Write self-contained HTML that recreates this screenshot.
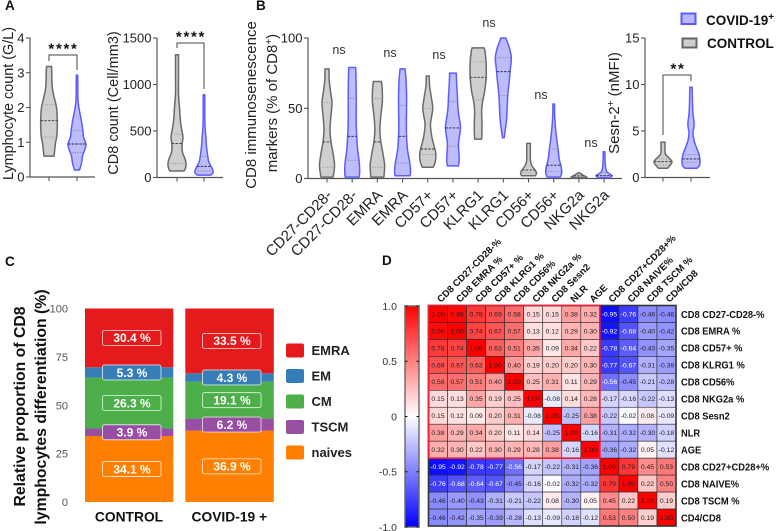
<!DOCTYPE html>
<html lang="en">
<head>
<meta charset="utf-8">
<title>CD8 immunosenescence figure</title>
<style>
html,body{margin:0;padding:0;background:#fff}
svg{display:block;font-family:"Liberation Sans",sans-serif;filter:blur(0.35px)}
.tick{font-size:13px;fill:#222}
.ylab{font-size:15px;fill:#222;text-anchor:middle}
.letter{font-size:13.5px;font-weight:bold;fill:#111}
.ns{font-size:12.5px;fill:#333;text-anchor:middle}
.stars{font-size:15px;font-weight:bold;fill:#111;text-anchor:middle;letter-spacing:1.7px}
.bold{font-weight:bold;fill:#111}
</style>
</head>
<body>
<svg id="fig" xmlns="http://www.w3.org/2000/svg" width="777" height="531" viewBox="0 0 777 531">
  <rect width="777" height="531" fill="#fff"/>

  <text class="letter" x="5" y="10">A</text>
  <text class="letter" x="256" y="10">B</text>
  <text class="letter" x="5" y="266">C</text>
  <text class="letter" x="382" y="265">D</text>

  <text class="ylab" transform="translate(13,103.5) rotate(-90)" style="font-size:14.4px">Lymphocyte count (G/L)</text>
  <text class="ylab" transform="translate(118,103) rotate(-90)" style="font-size:14.5px">CD8 count (Cell/mm3)</text>
  <text class="ylab" transform="translate(256,105) rotate(-90)">CD8 immunosenescence</text>
  <text class="ylab" transform="translate(277,103) rotate(-90)">markers (% of CD8<tspan baseline-shift="super" font-size="10">+</tspan>)</text>
  <text class="ylab" transform="translate(619,103) rotate(-90)">Sesn-2<tspan baseline-shift="super" font-size="10">+</tspan> (nMFI)</text>

  <g>
    <rect x="681.5" y="13.5" width="14" height="10.5" fill="#b9b9ff" stroke="#5a5aff" stroke-width="2"/>
    <text class="bold" x="706" y="25" font-size="13.5">COVID-19<tspan baseline-shift="super" font-size="10">+</tspan></text>
    <rect x="682.5" y="38.5" width="14" height="9" fill="#cfcfcf" stroke="#666" stroke-width="2"/>
    <text class="bold" x="707" y="48" font-size="13.5">CONTROL</text>
  </g>

  <text class="bold" text-anchor="middle" font-size="15.8" transform="translate(25,406.5) rotate(-90)">Relative proportion of CD8</text>
  <text class="bold" text-anchor="middle" font-size="15.8" transform="translate(46,407) rotate(-90)">lymphocytes differentiation (%)</text>

  <g id="layer"></g>
</svg>

<script>
// ---------- Panel A / B / Sesn violin data (value levels, density at each level, quartiles) ----------
const lymphTicks = [0, 1, 2, 3, 4];
const cd8Ticks = [0, 500, 1000, 1500];
const markerTicks = [0, 50, 100];
const sesnTicks = [0, 5, 10, 15];

const lymphControlValues = [0.6, 0.8, 1.0, 1.2, 1.6, 2.0, 2.3, 2.6, 3.0, 3.18];
const lymphControlDensity = [5, 5.8, 6.6, 7.9, 8.3, 7.5, 5.1, 3.2, 2.8, 2.5];
const lymphControlQuartiles = [1.15, 1.62, 2.08];
const lymphCovidValues = [0.2, 0.4, 0.6, 0.8, 0.95, 1.15, 1.3, 1.6, 1.9, 2.2, 2.6, 2.93];
const lymphCovidDensity = [2.5, 4.5, 5.5, 8, 9, 6.5, 6, 4.5, 2.5, 1, 0.8, 0.7];
const lymphCovidQuartiles = [0.7, 0.95, 1.33];

const cd8ControlValues = [70, 100, 150, 200, 270, 350, 430, 500, 600, 750, 900, 1050, 1200, 1320];
const cd8ControlDensity = [7, 8.5, 9, 8, 5.5, 5, 6, 5, 3.5, 2.5, 1.5, 1.5, 1.5, 1.5];
const cd8ControlQuartiles = [150, 365, 465];
const cd8CovidValues = [25, 50, 90, 130, 180, 250, 330, 420, 550, 700, 890];
const cd8CovidDensity = [6.5, 9, 8.5, 6.5, 4.5, 3.5, 2.5, 2, 1, 0.8, 0.8];
const cd8CovidQuartiles = [70, 120, 225];

const markerCategories = ['CD27-CD28-', 'CD27-CD28-', 'EMRA', 'EMRA', 'CD57+', 'CD57+', 'KLRG1', 'KLRG1', 'CD56+', 'CD56+', 'NKG2a', 'NKG2a'];
const markerSignificance = ['ns', 'ns', 'ns', 'ns', 'ns', 'ns'];

const cd27ControlValues = [1, 5, 10, 18, 26, 35, 45, 54, 62, 70, 78];
const cd27ControlDensity = [6, 7, 7.5, 6, 4, 3, 4, 5, 3.5, 2.2, 2];
const cd27ControlQuartiles = [8, 26, 54];
const cd27CovidValues = [1, 5, 12, 20, 30, 40, 50, 60, 70, 79];
const cd27CovidDensity = [7, 7.5, 7, 5.5, 4.5, 4, 4, 4, 3.8, 3.5];
const cd27CovidQuartiles = [13, 30, 57];
const emraControlValues = [1, 5, 10, 18, 26, 35, 45, 55, 64, 69];
const emraControlDensity = [6.5, 7, 7.2, 5.5, 3.5, 2.5, 3.5, 5, 4.8, 4];
const emraControlQuartiles = [8, 26, 57];
const emraCovidValues = [2, 6, 12, 20, 30, 40, 50, 60, 70, 78];
const emraCovidDensity = [7.5, 8, 7, 5, 4, 3.8, 4, 4, 3.5, 2.5];
const emraCovidQuartiles = [11, 30, 52];
const cd57ControlValues = [8, 12, 18, 24, 30, 38, 44, 50, 58, 66, 73];
const cd57ControlDensity = [5.5, 7.5, 8, 6, 4, 2.7, 3.8, 5, 3.5, 1.8, 1.5];
const cd57ControlQuartiles = [17, 21, 50];
const cd57CovidValues = [9, 13, 18, 24, 30, 36, 42, 50, 58, 66, 75];
const cd57CovidDensity = [5.5, 6.2, 6, 5.5, 6.5, 7.5, 6.5, 5, 4.5, 3.8, 3.3];
const cd57CovidQuartiles = [23, 36, 55];
const klrgControlValues = [28, 33, 40, 48, 55, 62, 72, 82, 90, 93];
const klrgControlDensity = [3.5, 3.8, 3.8, 3.5, 4.5, 6.5, 8, 8, 7, 6];
const klrgControlQuartiles = [56, 72, 83];
const klrgCovidValues = [29, 35, 42, 50, 60, 70, 78, 86, 93, 100];
const klrgCovidDensity = [0.8, 2, 3.2, 3.8, 4.5, 6, 7, 8, 6, 2.5];
const klrgCovidQuartiles = [59, 76, 86];
const cd56ControlValues = [2, 4, 6, 9, 12, 16, 20, 25];
const cd56ControlDensity = [7, 8, 6.5, 3.5, 2, 1.8, 1.8, 1.8];
const cd56ControlQuartiles = [4, 6, 15];
const cd56CovidValues = [1, 4, 8, 14, 20, 28, 36, 44, 53];
const cd56CovidDensity = [6.5, 8, 7.5, 5.5, 4.5, 3, 1.8, 1, 0.8];
const cd56CovidQuartiles = [5, 9.5, 21];
const nkgControlValues = [0.5, 1, 2, 3, 4];
const nkgControlDensity = [6, 8, 5, 3, 1];
const nkgControlQuartiles = [1, 1.8, 2.6];
const nkgCovidValues = [0.5, 2, 3.5, 5, 8, 12, 19];
const nkgCovidDensity = [6, 8, 5, 2.5, 1.5, 1, 0.8];
const nkgCovidQuartiles = [1, 2, 4];

const sesnControlValues = [1, 1.3, 1.7, 2.1, 2.5, 3, 3.8];
const sesnControlDensity = [4.5, 7, 9, 6, 2.5, 2, 2];
const sesnControlQuartiles = [1.35, 1.7, 2];
const sesnCovidValues = [1, 1.3, 1.8, 2.5, 3.2, 4, 4.8, 5.5, 6, 6.8, 8, 9.7];
const sesnCovidDensity = [6, 8.5, 9, 8, 5.5, 3, 2, 3, 3, 2, 1.5, 1.2];
const sesnCovidQuartiles = [1.65, 2, 2.45];

// ---------- Panel C data ----------
const stackGroups = ['CONTROL', 'COVID-19 +'];
const stackSegments = ['naives', 'TSCM', 'CM', 'EM', 'EMRA'];
const controlShares = [34.1, 3.9, 26.3, 5.3, 30.4];
const covidShares = [36.9, 6.2, 19.1, 4.3, 33.5];
const stackTicks = [0, 25, 50, 75, 100];
const legendOrder = ['EMRA', 'EM', 'CM', 'TSCM', 'naives'];

// ---------- Panel D data ----------
const heatLabels = ['CD8 CD27-CD28-%', 'CD8 EMRA %', 'CD8 CD57+ %', 'CD8 KLRG1 %', 'CD8 CD56%', 'CD8 NKG2a %', 'CD8 Sesn2', 'NLR', 'AGE', 'CD8 CD27+CD28+%', 'CD8 NAIVE%', 'CD8 TSCM %', 'CD4/CD8'];
const heatRow01 = [1, .96, .78, .69, .58, .15, .15, .38, .32, -.95, -.76, -.46, -.46];
const heatRow02 = [.96, 1, .74, .67, .57, .13, .12, .29, .30, -.92, -.68, -.40, -.42];
const heatRow03 = [.78, .74, 1, .63, .51, .35, .09, .34, .22, -.78, -.64, -.43, -.35];
const heatRow04 = [.69, .67, .63, 1, .40, .19, .20, .20, .30, -.77, -.67, -.31, -.39];
const heatRow05 = [.58, .57, .51, .40, 1, .25, .31, .11, .29, -.56, -.45, -.21, -.28];
const heatRow06 = [.15, .13, .35, .19, .25, 1, -.08, .14, .28, -.17, -.16, -.22, -.13];
const heatRow07 = [.15, .12, .09, .20, .31, -.08, 1, -.25, .38, -.22, -.02, .08, -.09];
const heatRow08 = [.38, .29, .34, .20, .11, .14, -.25, 1, -.16, -.31, -.32, -.30, -.18];
const heatRow09 = [.32, .30, .22, .30, .29, .28, .38, -.16, 1, -.36, -.32, .05, -.12];
const heatRow10 = [-.95, -.92, -.78, -.77, -.56, -.17, -.22, -.31, -.36, 1, .79, .45, .53];
const heatRow11 = [-.76, -.68, -.64, -.67, -.45, -.16, -.02, -.32, -.32, .79, 1, .22, .50];
const heatRow12 = [-.46, -.40, -.43, -.31, -.21, -.22, .08, -.30, .05, .45, .22, 1, .19];
const heatRow13 = [-.46, -.42, -.35, -.39, -.28, -.13, -.09, -.18, -.12, .53, .50, .19, 1];
const heatTicks = [1, 0.5, 0, -0.5, -1];

// ---------- Helpers ----------
const NS = 'http://www.w3.org/2000/svg';
const layer = document.getElementById('layer');
function mk(tag, attrs, name, parent, text) {
  const el = document.createElementNS(NS, tag);
  for (const k in attrs) el.setAttribute(k, attrs[k]);
  
  
  if (text !== undefined) el.textContent = text;
  (parent || layer).appendChild(el);
  return el;
}
function linear(d0, d1, r0, r1) { return v => r0 + (v - d0) / (d1 - d0) * (r1 - r0); }
function smoothSide(pts) {
  let d = '';
  for (let i = 0; i < pts.length - 1; i++) {
    const p0 = pts[Math.max(0, i - 1)], p1 = pts[i], p2 = pts[i + 1], p3 = pts[Math.min(pts.length - 1, i + 2)];
    const c1x = p1[0] + (p2[0] - p0[0]) / 6, c1y = p1[1] + (p2[1] - p0[1]) / 6;
    const c2x = p2[0] - (p3[0] - p1[0]) / 6, c2y = p2[1] - (p3[1] - p1[1]) / 6;
    d += 'C' + c1x.toFixed(2) + ' ' + c1y.toFixed(2) + ' ' + c2x.toFixed(2) + ' ' + c2y.toFixed(2) + ' ' + p2[0].toFixed(2) + ' ' + p2[1].toFixed(2);
  }
  return d;
}
const palette = {
  control: { fill: '#cfcfcf', stroke: '#6a6a6a', median: '#333', dots: '#8a8a8a' },
  covid: { fill: '#bcbcff', stroke: '#5c5cff', median: '#222', dots: '#777' }
};
function densityAt(values, density, v) {
  for (let i = 0; i < values.length - 1; i++) {
    if (v >= values[i] && v <= values[i + 1]) {
      const t = (v - values[i]) / (values[i + 1] - values[i]);
      return density[i] + t * (density[i + 1] - density[i]);
    }
  }
  return 0;
}
function violin(cx, yScale, values, density, quartiles, kind, name) {
  const c = palette[kind];
  const g = mk('g', {}, name);
  const right = values.map((v, i) => [cx + density[i], yScale(v)]);
  const left = values.map((v, i) => [cx - density[i], yScale(v)]).reverse();
  const d = 'M' + right[0][0].toFixed(2) + ' ' + right[0][1].toFixed(2) + smoothSide(right) +
    'L' + left[0][0].toFixed(2) + ' ' + left[0][1].toFixed(2) + smoothSide(left) + 'Z';
  mk('path', { d: d, fill: c.fill, stroke: c.stroke, 'stroke-width': 1.5, 'stroke-linejoin': 'round' }, name + '-body', g);
  quartiles.forEach((q, i) => {
    const w = densityAt(values, density, q);
    const attrs = { x1: cx - w, x2: cx + w, y1: yScale(q), y2: yScale(q),
      stroke: i === 1 ? c.median : c.dots, 'stroke-width': i === 1 ? 0.9 : 0.8,
      'stroke-dasharray': i === 1 ? '2.5 1.2' : '1 1.4' };
    mk('line', attrs, name + (i === 1 ? '-median' : '-quartile'), g);
  });
}
function yAxis(x, yScale, ticks, right, name) {
  const g = mk('g', {}, name);
  mk('line', { x1: x, x2: x, y1: yScale(ticks[ticks.length - 1]) - 0.5, y2: yScale(0) + 0.5, stroke: '#555', 'stroke-width': 1.2 }, name + '-line', g);
  mk('line', { x1: x, x2: right, y1: yScale(0), y2: yScale(0), stroke: '#555', 'stroke-width': 1.2 }, name + '-baseline', g);
  ticks.forEach(t => {
    mk('line', { x1: x - 4, x2: x, y1: yScale(t), y2: yScale(t), stroke: '#555', 'stroke-width': 1.1 }, 'y-tick-mark', g);
    mk('text', { x: x - 5.5, y: yScale(t) + 4.6, 'text-anchor': 'end', class: 'tick' }, 'y-tick-label', g, String(t));
  });
}
function xTick(x, y0, name) {
  mk('line', { x1: x, x2: x, y1: y0, y2: y0 + 4, stroke: '#555', 'stroke-width': 1.1 }, name, layer);
}
function bracket(x1, x2, top, y1, y2, stars, sx, sy, name) {
  const g = mk('g', {}, name);
  mk('path', { d: 'M' + x1 + ' ' + y1 + 'V' + top + 'H' + x2 + 'V' + y2, fill: 'none', stroke: '#444', 'stroke-width': 1 }, name + '-line', g);
  mk('text', { x: sx, y: sy, class: 'stars' }, name + '-stars', g, stars);
}

// ---------- Panel A ----------
const yLymph = linear(0, 4, 177, 38);
yAxis(30, yLymph, lymphTicks, 95, 'lymphocyte-axis');
xTick(49, 177, 'lymphocyte-x-tick-control');
xTick(77, 177, 'lymphocyte-x-tick-covid');
violin(49, yLymph, lymphControlValues, lymphControlDensity, lymphControlQuartiles, 'control', 'lymphocyte-violin-control');
violin(77, yLymph, lymphCovidValues, lymphCovidDensity, lymphCovidQuartiles, 'covid', 'lymphocyte-violin-covid');
bracket(49, 77, 55, 61, 70, '****', 63.5, 53.5, 'lymphocyte-significance');

const yCd8 = linear(0, 1500, 177.5, 38);
yAxis(157, yCd8, cd8Ticks, 223, 'cd8-axis');
xTick(177, 177.5, 'cd8-x-tick-control');
xTick(204, 177.5, 'cd8-x-tick-covid');
violin(177, yCd8, cd8ControlValues, cd8ControlDensity, cd8ControlQuartiles, 'control', 'cd8-violin-control');
violin(204, yCd8, cd8CovidValues, cd8CovidDensity, cd8CovidQuartiles, 'covid', 'cd8-violin-covid');
bracket(177, 204, 43, 48, 89, '****', 191, 41.5, 'cd8-significance');

// ---------- Panel B ----------
const yMarker = linear(0, 100, 178.5, 38);
const xMarker = i => 327 + i * 25.19;
yAxis(308, yMarker, markerTicks, 622, 'marker-axis');
const markerViolins = [
  [cd27ControlValues, cd27ControlDensity, cd27ControlQuartiles],
  [cd27CovidValues, cd27CovidDensity, cd27CovidQuartiles],
  [emraControlValues, emraControlDensity, emraControlQuartiles],
  [emraCovidValues, emraCovidDensity, emraCovidQuartiles],
  [cd57ControlValues, cd57ControlDensity, cd57ControlQuartiles],
  [cd57CovidValues, cd57CovidDensity, cd57CovidQuartiles],
  [klrgControlValues, klrgControlDensity, klrgControlQuartiles],
  [klrgCovidValues, klrgCovidDensity, klrgCovidQuartiles],
  [cd56ControlValues, cd56ControlDensity, cd56ControlQuartiles],
  [cd56CovidValues, cd56CovidDensity, cd56CovidQuartiles],
  [nkgControlValues, nkgControlDensity, nkgControlQuartiles],
  [nkgCovidValues, nkgCovidDensity, nkgCovidQuartiles]
];
markerViolins.forEach((v, i) => {
  const x = xMarker(i);
  xTick(x, 178.5, 'marker-x-tick');
  violin(x, yMarker, v[0], v[1], v[2], i % 2 ? 'covid' : 'control', 'marker-violin-' + markerCategories[i].toLowerCase().replace(/[^a-z0-9]+/g, '') + (i % 2 ? '-covid' : '-control'));
  mk('text', { 'text-anchor': 'end', 'font-size': 15, fill: '#222', transform: 'translate(' + (x + 6) + ',196) rotate(-45)' }, 'marker-category-label', layer, markerCategories[i]);
});
const nsX = [339, 390, 439, 489, 541, 591];
const nsY = [54, 57, 59, 27, 99, 147];
markerSignificance.forEach((s, i) => {
  mk('text', { x: nsX[i], y: nsY[i], class: 'ns' }, 'marker-significance-label', layer, s);
});

// ---------- Sesn panel ----------
const ySesn = linear(0, 15, 177.5, 38);
yAxis(645, ySesn, sesnTicks, 710, 'sesn-axis');
xTick(663, 177.5, 'sesn-x-tick-control');
xTick(691, 177.5, 'sesn-x-tick-covid');
violin(663, ySesn, sesnControlValues, sesnControlDensity, sesnControlQuartiles, 'control', 'sesn-violin-control');
violin(691, ySesn, sesnCovidValues, sesnCovidDensity, sesnCovidQuartiles, 'covid', 'sesn-violin-covid');
bracket(663, 691, 75, 135, 81, '**', 678, 73.5, 'sesn-significance');

// ---------- Panel C ----------
const segmentColors = { EMRA: '#e41a1c', EM: '#377eb8', CM: '#4daf4a', TSCM: '#984ea3', naives: '#ff7f00' };
const yStack = linear(0, 100, 502, 308.5);
stackTicks.forEach(t => {
  mk('text', { x: 68, y: yStack(t) + 4, 'text-anchor': 'end', 'font-size': 11, fill: '#555' }, 'stack-y-tick-label', layer, String(t));
});
const stackX = [85, 185.3];
const stackW = [88.3, 88.5];
const boxX = [102, 202];
[controlShares, covidShares].forEach((shares, g) => {
  let cum = 0;
  const group = mk('g', {}, 'stack-' + stackGroups[g].toLowerCase().replace(/[^a-z0-9]+/g, '-'));
  shares.forEach((v, i) => {
    const seg = stackSegments[i];
    mk('rect', { x: stackX[g], y: yStack(cum + v), width: stackW[g], height: yStack(cum) - yStack(cum + v), fill: segmentColors[seg] }, 'segment-' + seg.toLowerCase(), group);
    cum += v;
  });
  cum = 0;
  shares.forEach((v, i) => {
    const seg = stackSegments[i];
    const cy = yStack(cum + v / 2);
    mk('rect', { x: boxX[g] + 0.5, y: cy - 7.5, width: 58.5, height: 15, rx: 2, fill: segmentColors[seg], stroke: 'rgba(255,255,255,.75)', 'stroke-width': 0.9 }, 'segment-label-box', group);
    mk('text', { x: boxX[g] + 30, y: cy + 4.3, 'text-anchor': 'middle', 'font-size': 12, 'font-weight': 'bold', fill: '#fff' }, 'segment-label', group, v.toFixed(1) + ' %');
    cum += v;
  });
  mk('text', { x: stackX[g] + 44, y: 521.5, 'text-anchor': 'middle', 'font-size': 13.8, class: 'bold' }, 'stack-x-label', layer, stackGroups[g]);
});
legendOrder.forEach((name, i) => {
  const cy = 350.5 + i * 25.5;
  mk('rect', { x: 286, y: cy - 7, width: 18, height: 14, rx: 2, fill: segmentColors[name] }, 'legend-swatch-' + name.toLowerCase(), layer);
  mk('text', { x: 311.5, y: cy + 4.7, 'font-size': 13, 'font-weight': 'bold', fill: '#222' }, 'legend-label-' + name.toLowerCase(), layer, name);
});

// ---------- Panel D ----------
const heatMatrix = [heatRow01, heatRow02, heatRow03, heatRow04, heatRow05, heatRow06, heatRow07, heatRow08, heatRow09, heatRow10, heatRow11, heatRow12, heatRow13];
const xHeat = linear(0, 13, 428.5, 676);
const yHeat = linear(0, 13, 305.5, 526);
function heatColor(v) {
  const t = Math.round((1 - Math.abs(v)) * 255);
  return v >= 0 ? 'rgb(255,' + t + ',' + t + ')' : 'rgb(' + t + ',' + t + ',255)';
}
const heatGroup = mk('g', {}, 'correlation-heatmap');
heatMatrix.forEach((row, r) => {
  row.forEach((v, c) => {
    mk('rect', { x: xHeat(c), y: yHeat(r), width: xHeat(c + 1) - xHeat(c), height: yHeat(r + 1) - yHeat(r), fill: heatColor(v), stroke: '#2a2a2a', 'stroke-width': 0.6 }, 'heat-cell', heatGroup);
    mk('text', { x: (xHeat(c) + xHeat(c + 1)) / 2, y: (yHeat(r) + yHeat(r + 1)) / 2 + 2.4, 'text-anchor': 'middle', 'font-size': 6.8, fill: v < -0.5 ? '#fff' : '#222' }, 'heat-value', heatGroup, v.toFixed(2));
  });
});
heatLabels.forEach((label, i) => {
  mk('text', { 'font-size': 10.5, 'font-weight': 'bold', fill: '#111', transform: 'translate(681,' + ((yHeat(i) + yHeat(i + 1)) / 2 + 3.8) + ') scale(.89,1)' }, 'heat-row-label', layer, label);
  mk('text', { 'font-size': 9.6, 'font-weight': 'bold', fill: '#111', transform: 'translate(' + ((xHeat(i) + xHeat(i + 1)) / 2 + 3) + ',303) rotate(-45)' }, 'heat-column-label', layer, label);
});
mk('rect', { x: xHeat(0), y: yHeat(0), width: xHeat(13) - xHeat(0), height: yHeat(13) - yHeat(0), fill: 'none', stroke: '#333', 'stroke-width': 1.6 }, 'heat-border', layer);
mk('path', { d: 'M' + xHeat(0) + ' ' + yHeat(9) + 'H' + xHeat(9) + 'V' + yHeat(0) + 'H' + xHeat(0) + 'Z', fill: 'none', stroke: '#f01c30', 'stroke-width': 1.6 }, 'heat-cluster-outline', layer);

const defs = mk('defs', {}, 'gradients');
const grad = mk('linearGradient', { id: 'heatGrad', x1: 0, y1: 0, x2: 0, y2: 1 }, 'colorbar-gradient', defs);
[[0, '#ff0000'], [0.5, '#ffffff'], [1, '#0000ff']].forEach(s => {
  mk('stop', { offset: s[0], 'stop-color': s[1] }, 'gradient-stop', grad);
});
const yBar = linear(1, -1, 306, 527);
mk('rect', { x: 405, y: yBar(1), width: 14, height: yBar(-1) - yBar(1), fill: 'url(#heatGrad)', stroke: '#666', 'stroke-width': 1.4 }, 'colorbar', layer);
heatTicks.forEach(t => {
  mk('path', { d: 'M405 ' + yBar(t) + 'h2.5M419 ' + yBar(t) + 'h-2.5', stroke: '#111', 'stroke-width': 1, fill: 'none' }, 'colorbar-tick', layer);
  const lbl = t === 0 ? '0' : t.toFixed(1);
  mk('text', { x: 397, y: yBar(t) + 3.8, 'text-anchor': 'end', 'font-size': 10.5, fill: '#333' }, 'colorbar-tick-label', layer, lbl);
});
</script>
</body>
</html>
